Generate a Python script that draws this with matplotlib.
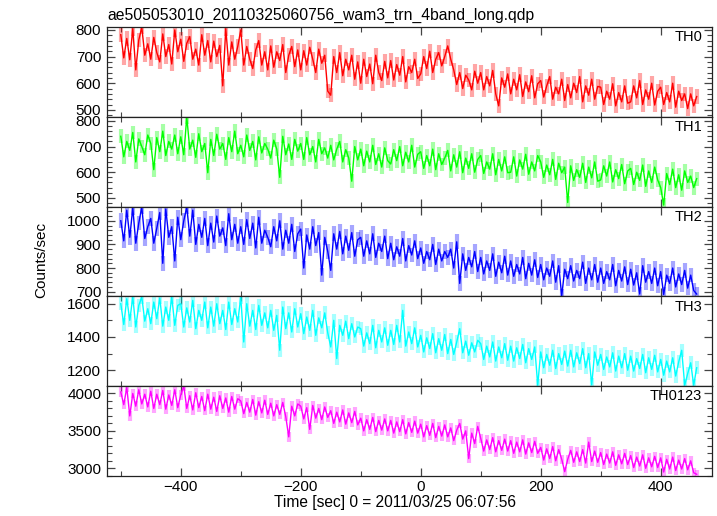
import numpy as np
import matplotlib
matplotlib.use("Agg")
import matplotlib.pyplot as plt
from matplotlib.ticker import MultipleLocator

plt.rcParams['font.family'] = ['Liberation Sans', 'DejaVu Sans']

title = "ae505053010_20110325060756_wam3_trn_4band_long.qdp"
xlabel = "Time [sec] 0 = 2011/03/25 06:07:56"
ylabel = "Counts/sec"
band_names = ["TH0", "TH1", "TH2", "TH3", "TH0123"]
band_colors = ["#ff0000", "#00ff00", "#0000ff", "#00ffff", "#ff00ff"]

time_start, time_stop, time_step = -500, 460, 5
time = np.arange(time_start, time_stop + 1, time_step)

th0 = [782, 695, 768, 688, 805, 650, 762, 810, 705, 748,
       690, 772, 715, 680, 785, 700, 745, 672, 800, 718,
       765, 682, 750, 775, 690, 728, 668, 782, 705, 760,
       680, 758, 700, 742, 590, 805, 668, 755, 690, 738,
       800, 668, 738, 690, 655, 725, 760, 668, 718, 650,
       740, 660, 718, 685, 745, 640, 705, 738, 662, 725,
       650, 722, 668, 735, 690, 640, 728, 675, 705, 570,
       555, 700, 640, 715, 628, 690, 650, 705, 615, 680,
       600, 690, 625, 672, 598, 705, 640, 610, 682, 620,
       685, 612, 670, 630, 700, 605, 662, 640, 690, 618,
       635, 700, 655, 720, 640, 690, 715, 665, 700, 740,
       690, 650, 595, 640, 580, 630, 612, 575, 645, 600,
       640, 575, 625, 590, 648, 560, 515, 620, 585, 635,
       560, 615, 575, 632, 550, 605, 568, 628, 545, 598,
       610, 548, 590, 625, 540, 585, 560, 615, 535, 595,
       545, 600, 565, 625, 530, 590, 555, 615, 540, 588,
       585, 520, 570, 540, 598, 515, 565, 530, 590, 525,
       530, 590, 545, 610, 520, 575, 540, 600, 518, 570,
       585, 520, 565, 530, 600, 510, 570, 535, 560, 505,
       560, 515, 550]

th1 = [740, 660, 720, 685, 755, 640, 730, 700, 668, 745,
       712, 610, 735, 680, 760, 665, 720, 690, 745, 672,
       738, 668, 815, 690, 725, 658, 750, 680, 712, 598,
       728, 665, 748, 690, 712, 650, 735, 680, 760, 672,
       705, 660, 745, 685, 720, 648, 738, 675, 712, 690,
       655, 725, 690, 580, 740, 668, 710, 650, 728, 682,
       712, 650, 735, 668, 700, 640, 728, 672, 695, 655,
       705, 648, 690, 720, 640, 688, 655, 565, 700, 648,
       690, 625, 682, 640, 705, 630, 672, 620, 695, 645,
       632, 688, 645, 700, 625, 678, 640, 705, 620, 670,
       680, 615, 665, 625, 690, 610, 672, 630, 655, 685,
       605, 668, 620, 680, 598, 655, 615, 672, 600, 650,
       665, 595, 640, 612, 672, 590, 650, 605, 660, 598,
       600, 660, 585, 648, 612, 670, 592, 640, 605, 665,
       640, 580, 628, 590, 650, 572, 635, 598, 620, 482,
       625, 568, 610, 580, 635, 560, 620, 578, 640, 565,
       570, 625, 585, 640, 562, 610, 575, 630, 555, 605,
       615, 552, 600, 568, 628, 545, 605, 560, 620, 570,
       540, 472, 595, 552, 612, 540, 590, 530, 605, 560,
       585, 540, 575]

th2 = [1000, 915, 1045, 930, 1055, 905, 990, 1058, 925, 975,
       1010, 905, 968, 1035, 820, 1050, 930, 975, 830, 1015,
       920, 1000, 1058, 935, 1045, 900, 985, 930, 1010, 895,
       990, 910, 1020, 935, 970, 895, 1030, 920, 985, 905,
       975, 900, 1005, 925, 990, 885, 1015, 905, 960, 930,
       890, 975, 915, 1000, 880, 960, 905, 985, 870, 945,
       965, 800, 940, 880, 975, 895, 950, 770, 930, 870,
       790, 945, 880, 955, 860, 935, 875, 950, 850, 920,
       930, 850, 915, 860, 945, 845, 905, 870, 935, 840,
       905, 835, 890, 850, 925, 830, 895, 855, 915, 840,
       885, 820, 870, 835, 900, 815, 880, 830, 870, 845,
       880, 800, 911, 735, 860, 790, 845, 805, 870, 785,
       845, 775, 830, 790, 860, 765, 825, 780, 850, 770,
       830, 765, 815, 775, 845, 755, 820, 770, 835, 760,
       815, 750, 800, 765, 830, 740, 810, 682, 795, 755,
       810, 745, 790, 755, 825, 735, 800, 750, 815, 740,
       800, 735, 785, 750, 815, 725, 790, 745, 805, 730,
       795, 728, 780, 690, 810, 740, 785, 735, 800, 725,
       785, 688, 770, 735, 800, 720, 775, 730, 790, 715,
       770, 705, 690]

th3 = [1600, 1475, 1630, 1500, 1640, 1460, 1590, 1640, 1495, 1570,
       1480, 1610, 1510, 1635, 1465, 1580, 1500, 1640, 1470, 1590,
       1600, 1460, 1575, 1490, 1620, 1450, 1560, 1500, 1610, 1455,
       1580, 1465, 1600, 1480, 1560, 1445, 1610, 1475, 1570, 1490,
       1640, 1370, 1600, 1465, 1560, 1445, 1590, 1470, 1545, 1455,
       1560, 1440, 1530, 1320, 1580, 1450, 1545, 1430, 1570, 1460,
       1540, 1420, 1520, 1440, 1560, 1410, 1515, 1455, 1545, 1425,
       1340, 1500, 1270, 1470, 1410, 1495, 1390, 1480, 1400, 1460,
       1450, 1345, 1425, 1360, 1470, 1335, 1440, 1370, 1455, 1350,
       1440, 1355, 1470, 1370, 1560, 1345, 1430, 1360, 1455, 1340,
       1410, 1310, 1395, 1330, 1420, 1305, 1390, 1320, 1415, 1300,
       1385, 1295, 1370, 1450, 1305, 1375, 1290, 1365, 1310, 1380,
       1360, 1265, 1345, 1280, 1370, 1255, 1340, 1275, 1360, 1260,
       1345, 1255, 1335, 1270, 1355, 1245, 1330, 1265, 1340, 1110,
       1310, 1215, 1295, 1230, 1320, 1210, 1300, 1235, 1315, 1225,
       1320, 1220, 1305, 1240, 1330, 1215, 1300, 1112, 1310, 1230,
       1295, 1205, 1280, 1220, 1305, 1195, 1285, 1215, 1300, 1200,
       1285, 1195, 1270, 1210, 1295, 1185, 1275, 1205, 1290, 1190,
       1265, 1170, 1255, 1190, 1275, 1165, 1250, 1320, 1110, 1180,
       1245, 1110, 1215]

th0123 = [4020, 3850, 4080, 3700, 4000, 3830, 4050, 3860, 3990, 3820,
          4030, 3800, 3990, 3850, 4040, 3790, 3980, 3840, 4050, 3810,
          3980, 4100, 3800, 3970, 3780, 4010, 3810, 3960, 3770, 3990,
          3790, 3950, 3760, 3970, 3800, 3940, 3750, 3960, 3790, 3930,
          3900, 3730, 3880, 3750, 3920, 3710, 3890, 3740, 3910, 3720,
          3870, 3700, 3850, 3720, 3880, 3690, 3420, 3830, 3700, 3860,
          3830, 3660, 3810, 3520, 3840, 3670, 3800, 3650, 3820, 3680,
          3770, 3600, 3750, 3620, 3780, 3590, 3740, 3610, 3760, 3580,
          3670, 3500, 3650, 3520, 3680, 3490, 3640, 3510, 3660, 3500,
          3640, 3470, 3620, 3490, 3650, 3460, 3610, 3480, 3630, 3470,
          3590, 3420, 3570, 3440, 3600, 3410, 3560, 3430, 3580, 3420,
          3540, 3370, 3510, 3600, 3390, 3500, 3130, 3470, 3330, 3560,
          3400, 3230, 3380, 3250, 3410, 3220, 3370, 3240, 3390, 3230,
          3370, 3200, 3350, 3220, 3380, 3190, 3340, 3210, 3360, 3200,
          3280, 3110, 3260, 3130, 3290, 3100, 3250, 3120, 2955, 3120,
          3240, 3080, 3220, 3090, 3250, 3070, 3350, 3090, 3230, 3080,
          3210, 3050, 3190, 3070, 3220, 3040, 3180, 3060, 3200, 3050,
          3170, 3010, 3150, 3030, 3180, 3000, 3140, 3020, 3160, 3010,
          3140, 2950, 3120, 2990, 3150, 2970, 3110, 2990, 3130, 2980,
          3100, 2940, 2920]

series = [th0, th1, th2, th3, th0123]
errors = [27, 27, 31, 39, 63]

y_limits = [(474, 811), (466, 816), (680, 1060), (1104, 1644), (2897, 4097)]
y_major = [100, 100, 100, 200, 500]
y_minor = [20, 20, 20, 100, 100]
x_limits = (-523.5, 485)
x_ticks = [-400, -200, 0, 200, 400]

fig = plt.figure(figsize=(7.17, 5.16), dpi=100)
gs = fig.add_gridspec(5, 1, left=0.1488, right=0.9926, top=0.9477, bottom=0.0775, hspace=0)
axes = [fig.add_subplot(gs[i]) for i in range(5)]

for i, ax in enumerate(axes):
    vals = np.array(series[i], dtype=float)
    col = band_colors[i]
    ax.errorbar(time, vals, yerr=errors[i], fmt='none', ecolor=col, alpha=0.35,
                elinewidth=3.0, capsize=0)
    ax.plot(time, vals, color=col, lw=1.0)
    ax.set_xlim(*x_limits)
    ax.set_ylim(*y_limits[i])
    ax.yaxis.set_major_locator(MultipleLocator(y_major[i]))
    ax.yaxis.set_minor_locator(MultipleLocator(y_minor[i]))
    ax.set_xticks(x_ticks)
    ax.xaxis.set_minor_locator(MultipleLocator(100))
    ax.tick_params(which='both', direction='in', top=True, right=True,
                   color='#444444', labelsize=11, labelright=False)
    ax.tick_params(which='major', length=6, width=0.9)
    ax.tick_params(which='minor', length=3.5, width=0.8)
    ax.tick_params(axis='x', which='major', pad=3)
    ax.tick_params(axis='y', which='major', pad=4)
    for s in ax.spines.values():
        s.set_color('#222222')
        s.set_linewidth(0.9)
    if i < 4:
        ax.tick_params(labelbottom=False)
    ax.text(0.9845, 0.965, band_names[i], transform=ax.transAxes, ha='right', va='top',
            fontsize=10.5)

fig.text(0.1497, 0.9612, title, ha='left', va='baseline', fontsize=11.3)
fig.text(0.5516, 0.0165, xlabel, ha='center', va='baseline', fontsize=11.2)
fig.text(0.0572, 0.496, ylabel, rotation=90, ha='center', va='center', fontsize=11)

fig.savefig("out.png", dpi=100)
